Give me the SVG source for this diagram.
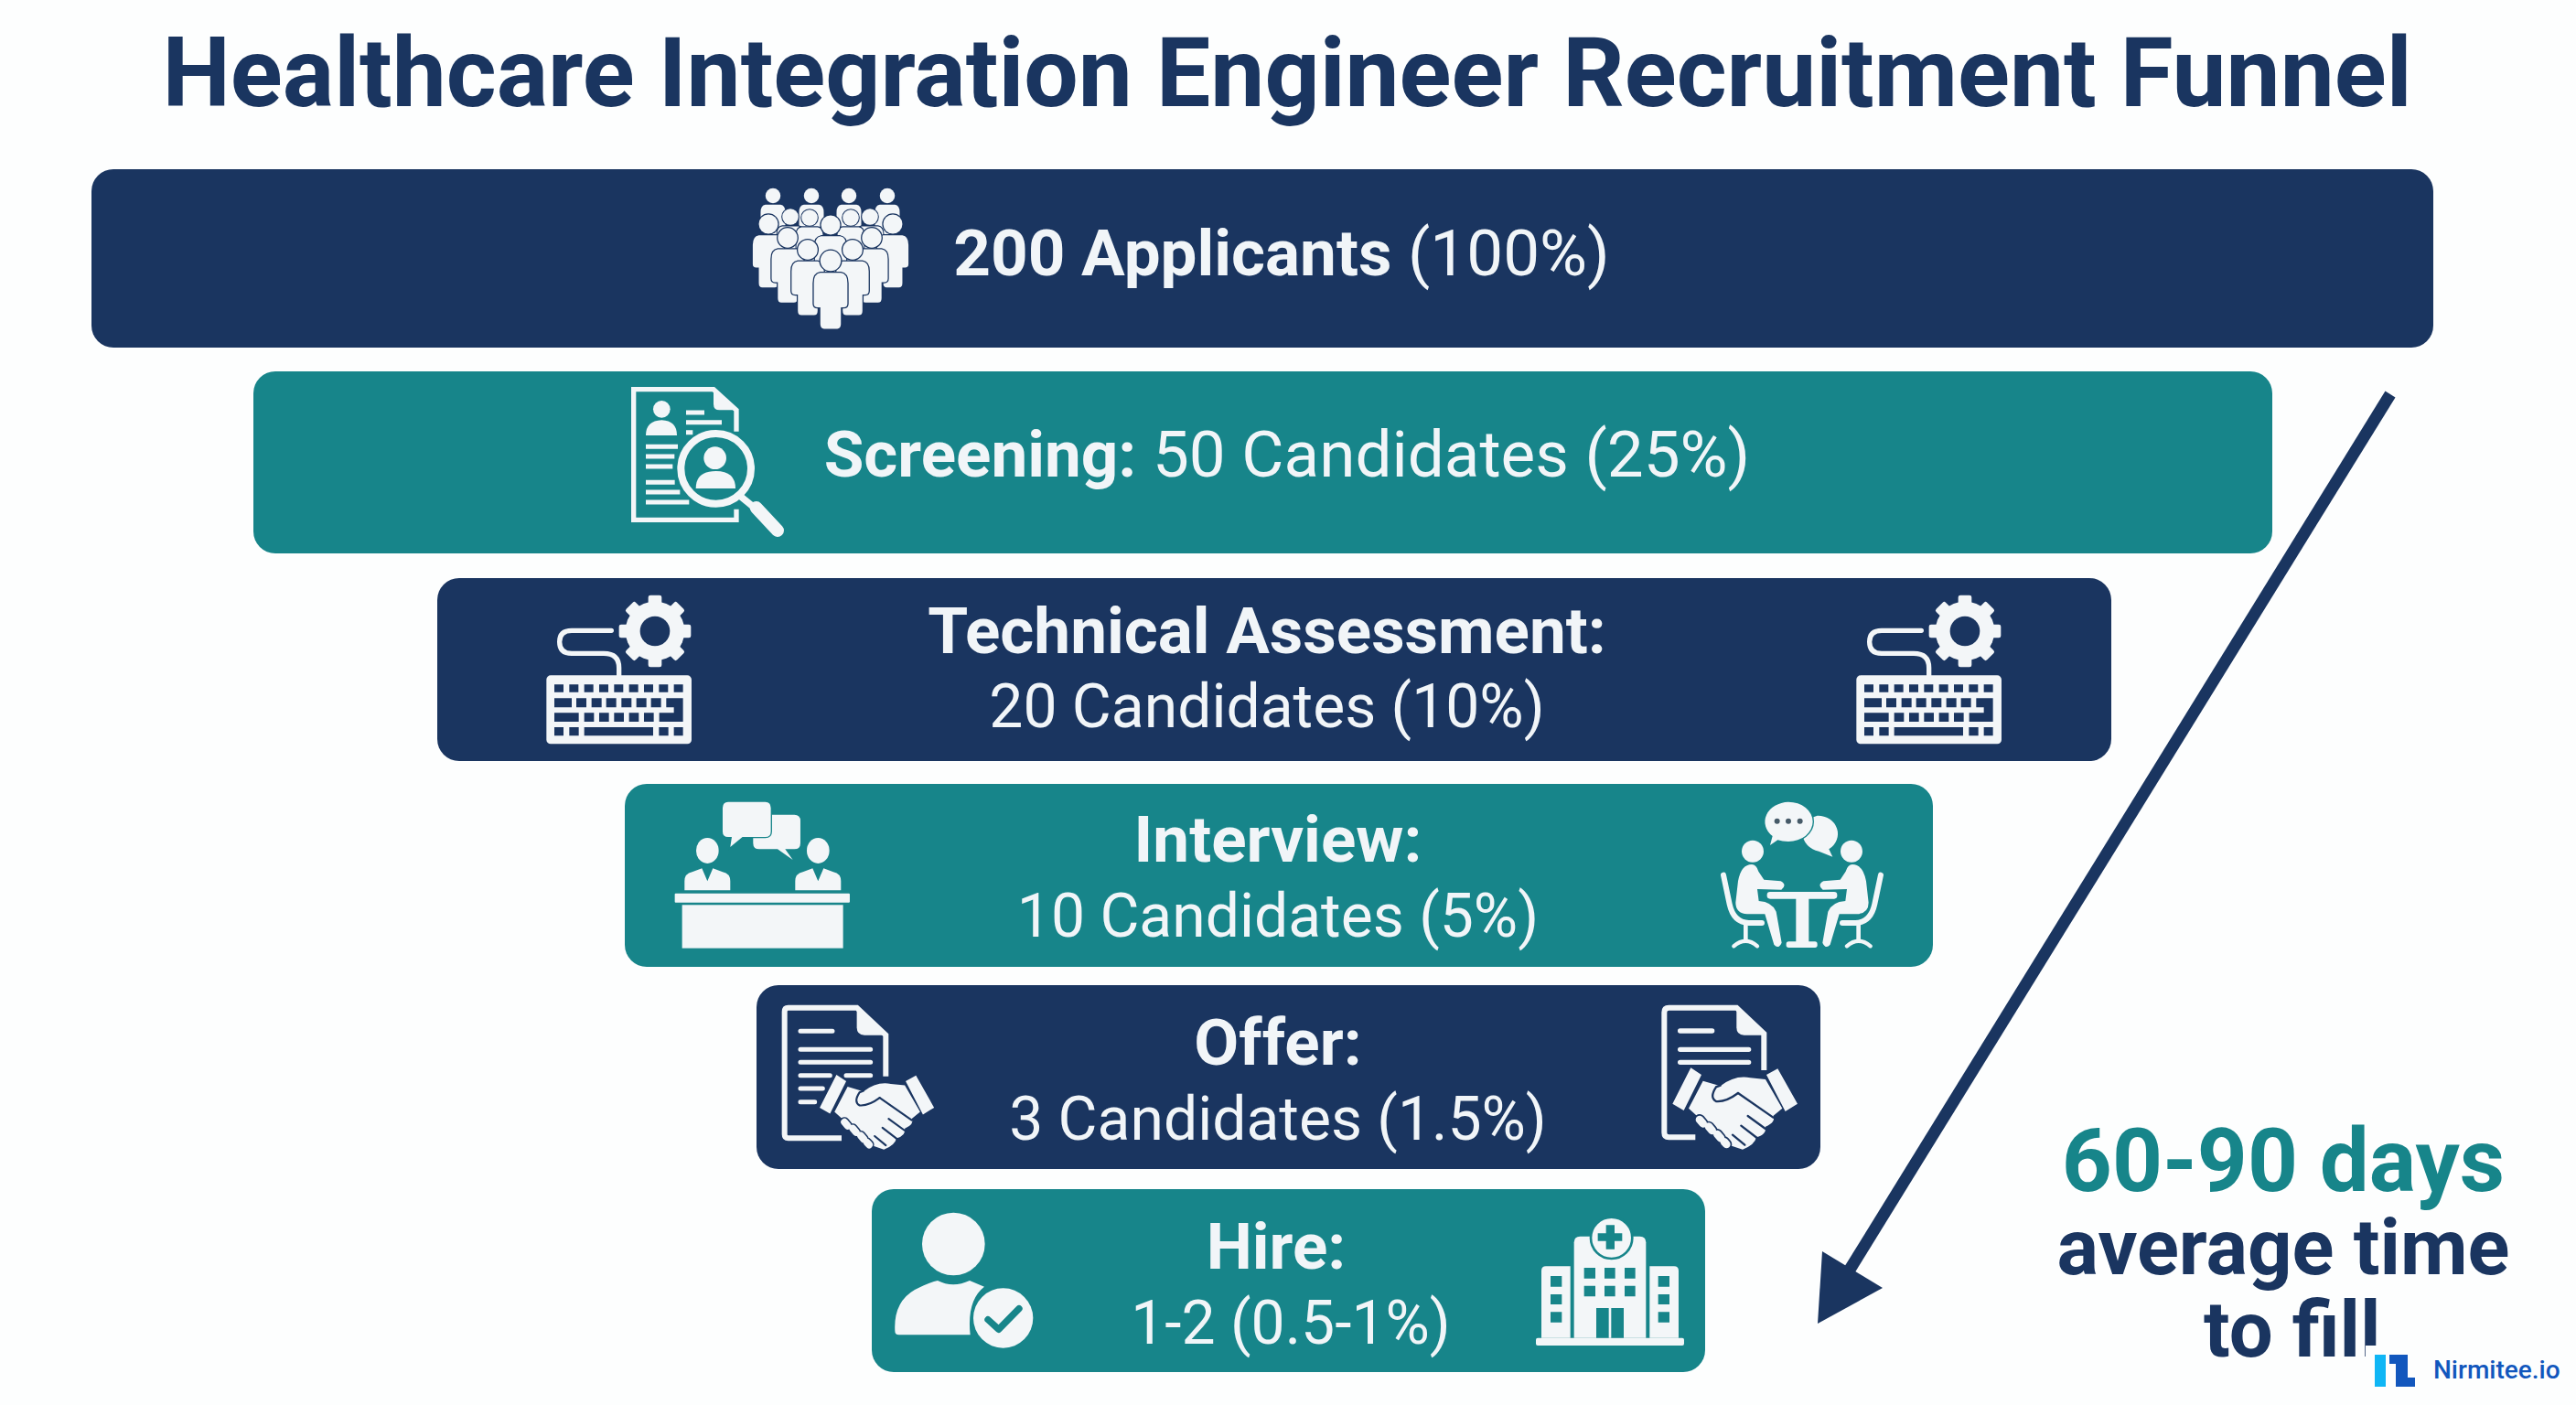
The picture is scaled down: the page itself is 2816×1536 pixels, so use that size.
<svg xmlns="http://www.w3.org/2000/svg" xmlns:xlink="http://www.w3.org/1999/xlink" width="2816" height="1536" viewBox="0 0 2816 1536">
<style>
.navy{fill:#1a3560}.teal{fill:#17858a}
text{font-family:Roboto,"Liberation Sans",sans-serif}
.t{fill:#f1f5f8;font-size:71px;text-anchor:middle}
.s{font-size:66px}
.b{font-weight:700}.r{font-weight:400}
.w{fill:#f3f6f8}
.ln{stroke:#f3f6f8;fill:none}
.p{fill:#f3f6f8;stroke:#1a3560;stroke-width:2.6;paint-order:stroke}
</style>
<defs>
<g id="person"><circle cx="0" cy="0" r="11"/><path d="M-11,13H11Q18,14 18,24V46Q18,50 14,50H11V68Q11,73 7,73H-7Q-11,73 -11,68V50H-14Q-18,50 -18,46V24Q-18,14 -11,13Z"/></g>
<g id="kb">
<path class="ln" stroke-width="16" stroke-linecap="round" d="M325,208H195Q155,208 155,245Q155,283 195,283H300Q350,283 350,330V360"/>
<g class="w"><rect x="446" y="92" width="44" height="236" rx="7"/><rect x="446" y="92" width="44" height="236" rx="7" transform="rotate(45 468 210)"/><rect x="446" y="92" width="44" height="236" rx="7" transform="rotate(90 468 210)"/><rect x="446" y="92" width="44" height="236" rx="7" transform="rotate(135 468 210)"/><circle cx="468" cy="210" r="97"/></g>
<circle cx="468" cy="210" r="49" class="navy"/>
<rect x="112" y="355" width="476" height="225" rx="14" class="w"/>
<path class="navy" d="M138,385h30v25h-30zM187,385h30v25h-30zM236,385h30v25h-30zM285,385h30v25h-30zM334,385h30v25h-30zM383,385h30v25h-30zM432,385h30v25h-30zM481,385h30v25h-30zM530,385h30v25h-30zM138,430h57v30h-57zM210,430h33v30h-33zM260,430h33v30h-33zM308,430h33v30h-33zM358,430h33v30h-33zM407,430h33v30h-33zM455,430h33v30h-33zM505,430h55v77h-78v-29h48v-18h-25zM138,478h80v29h-80zM236,478h32v29h-32zM285,478h32v29h-32zM334,478h32v29h-32zM383,478h32v29h-32zM432,478h32v29h-32zM138,525h30v28h-30zM187,525h31v28h-31zM236,525h226v28h-226zM481,525h31v28h-31zM530,525h30v28h-30z"/>
</g>
<g id="hs">
<path class="w" d="M175,262L210,285L152,402L115,380ZM460,265L525,380L485,405L423,285Z"/>
<path class="w" d="M215,305L272,322Q320,285 370,295L420,300L475,395L445,420Q455,440 420,455Q425,480 390,490Q385,515 345,530L300,515L168,395Z"/>
<g stroke="#1a3560" stroke-width="7" fill="none" stroke-linecap="round"><path d="M330,345Q290,375 258,372Q235,360 258,325L272,320"/><path d="M330,345L445,425"/><path d="M362,420L428,468"/><path d="M340,452L392,492"/><path d="M312,482L352,515"/></g>
<g stroke="#1a3560" stroke-width="36" stroke-linecap="round"><path d="M204,432L215,445M234,455L245,468M262,480L273,493M285,505L292,513"/></g>
<g stroke="#f3f6f8" stroke-width="26" stroke-linecap="round"><path d="M204,432L215,445M234,455L245,468M262,480L273,493M285,505L292,513"/></g>
</g>
</defs>
<rect width="2816" height="1536" fill="#fdfefe"/>
<text id="title" x="1407" y="116" text-anchor="middle" class="b" font-size="105.4" fill="#1a3560">Healthcare Integration Engineer Recruitment Funnel</text>

<g id="connectors">
<path d="M2613,431L2022,1388" stroke="#1a3560" stroke-width="13" fill="none"/>
<path d="M1987,1447L1992,1368L2058,1408Z" class="navy"/>
</g>

<g id="node-applicants">
<rect x="100" y="185" width="2560" height="195" rx="24" class="navy"/>
<g class="p">
<use href="#person" transform="translate(845,214) scale(.75)"/><use href="#person" transform="translate(887,214) scale(.75)"/><use href="#person" transform="translate(928,214) scale(.75)"/><use href="#person" transform="translate(970,214) scale(.75)"/>
<use href="#person" transform="translate(864,237) scale(.8)"/><use href="#person" transform="translate(951,237) scale(.8)"/>
<use href="#person" transform="translate(885,238) scale(.8)"/><use href="#person" transform="translate(930,238) scale(.8)"/>
<use href="#person" transform="translate(840,245) scale(.95)"/><use href="#person" transform="translate(976,245) scale(.95)"/>
<use href="#person" transform="translate(908,246) scale(.95)"/>
<use href="#person" transform="translate(861,260) scale(.97)"/><use href="#person" transform="translate(953,260) scale(.97)"/>
<use href="#person" transform="translate(883,273) scale(.98)"/><use href="#person" transform="translate(932,273) scale(.98)"/>
<use href="#person" transform="translate(908,285) scale(1.02)"/>
</g>
<text class="t" x="1401" y="301"><tspan class="b">200 Applicants</tspan><tspan class="r"> (100%)</tspan></text>
</g>

<g id="node-screening">
<rect x="277" y="406" width="2207" height="199" rx="24" class="teal"/>
<g transform="translate(670,410) scale(.3333)">
<path class="ln" stroke-width="16" d="M405,440V475H68V47H330L405,115V185"/>
<path class="w" d="M330,50L405,115H350Q330,115 330,95Z"/>
<circle cx="160" cy="112" r="28" class="w"/><path class="w" d="M108,198Q108,150 160,148Q210,150 210,198Z"/>
<path class="ln" stroke-width="15" d="M240,123H300M240,155H357M240,188H262M108,235H213M108,267H202M108,300H196M108,352H203M108,384H220M108,417H250"/>
<circle cx="338" cy="307" r="115" fill="#17858a" stroke="#17858a" stroke-width="36"/>
<circle cx="338" cy="307" r="115" class="ln" stroke-width="24"/>
<circle cx="335" cy="272" r="37" class="w"/><path class="w" d="M272,372Q272,315 338,315Q402,315 402,372Z"/>
<path class="ln" stroke-width="22" d="M415,395L470,440"/><path class="ln" stroke-width="42" stroke-linecap="round" d="M470,435L540,510"/>
</g>
<text class="t" x="1407" y="521"><tspan class="b">Screening:</tspan><tspan class="r"> 50 Candidates (25%)</tspan></text>
</g>

<g id="node-technical">
<rect x="478" y="632" width="1830" height="200" rx="24" class="navy"/>
<use href="#kb" transform="translate(560,620) scale(.3333)"/>
<use href="#kb" transform="translate(1992,620) scale(.3333)"/>
<text class="t b" x="1385" y="714">Technical Assessment:</text>
<text class="t r s" x="1385" y="795">20 Candidates (10%)</text>
</g>

<g id="node-interview">
<rect x="683" y="857" width="1430" height="200" rx="24" class="teal"/>
<g transform="translate(560,620) scale(.3333)">
<path class="w" d="M805,812H925Q945,812 945,832V905Q945,925 925,925H895L920,960L870,925H810Q790,925 790,905V832Q790,812 805,812Z"/>
<path class="w" stroke="#17858a" stroke-width="8" paint-order="stroke" d="M708,770H830Q848,770 848,790V867Q848,885 830,885H755L715,918L720,885H708Q690,885 690,867V790Q690,770 708,770Z"/>
<ellipse cx="640" cy="930" rx="37" ry="42" class="w"/><ellipse cx="1003" cy="930" rx="37" ry="42" class="w"/>
<path class="w" d="M565,1060V1030Q565,1005 590,1000L622,988L640,1030L658,988L690,1000Q715,1005 715,1030V1060Z"/>
<path class="w" d="M928,1060V1030Q928,1005 953,1000L985,988L1003,1030L1021,988L1053,1000Q1078,1005 1078,1030V1060Z"/>
<rect x="533" y="1070" width="574" height="30" rx="3" class="w"/><rect x="557" y="1108" width="528" height="142" class="w"/>
</g>
<g transform="translate(1840,860) scale(.3333)">
<path class="w" d="M440,95A65,60 0 0 1 478,205L490,230L445,212A65,60 0 0 1 440,95Z"/>
<path class="w" stroke="#17858a" stroke-width="8" paint-order="stroke" d="M345,50A80,65 0 0 1 345,180Q325,180 310,175L285,192L293,162A80,65 0 0 1 345,50Z"/>
<g fill="#465a68"><circle cx="308" cy="113" r="9"/><circle cx="345" cy="113" r="9"/><circle cx="383" cy="113" r="9"/></g>
<g id="seat"><circle cx="228" cy="212" r="36" class="w"/>
<path class="w" d="M225,255Q190,255 180,310L172,380Q172,415 210,418H268L298,518Q312,535 323,512L305,410Q292,378 248,375L243,336L322,338Q342,322 320,310L265,305L247,278Q240,255 225,255Z"/>
<path class="ln" stroke-width="18" stroke-linecap="round" d="M132,290L152,385Q165,445 215,447H258"/>
<path class="ln" stroke-width="14" d="M205,447V505"/><path class="ln" stroke-width="13" stroke-linecap="round" d="M166,523Q205,490 243,523"/></g>
<use href="#seat" transform="matrix(-1 0 0 1 780 0)"/>
<rect x="275" y="345" width="230" height="23" rx="10" class="w"/><rect x="370" y="365" width="42" height="148" class="w"/><rect x="338" y="508" width="102" height="20" rx="8" class="w"/>
</g>
<text class="t b" x="1397" y="942">Interview:</text>
<text class="t r s" x="1397" y="1024">10 Candidates (5%)</text>
</g>

<g id="node-offer">
<rect x="827" y="1077" width="1163" height="201" rx="24" class="navy"/>
<g transform="translate(820,1060) scale(.3333)">
<path class="ln" stroke-width="18" d="M300,553H125Q113,553 113,540V138Q113,125 125,125H350L445,215V350"/>
<path class="w" d="M350,130L445,215H375Q350,215 350,190Z"/>
<path class="ln" stroke-width="15" stroke-linecap="round" d="M165,202H270M165,262H395M165,304H395M165,347H262M315,347H395M165,390H238M165,434H212"/>
</g>
<use href="#hs" transform="translate(861,1095) scale(.305)"/>
<g transform="translate(1790,1080) scale(.3333)">
<path class="ln" stroke-width="18" d="M190,490H103Q88,490 88,475V80Q88,65 103,65H325L415,150V270"/>
<path class="w" d="M325,70L415,155H350Q325,155 325,130Z"/>
<path class="ln" stroke-width="16" stroke-linecap="round" d="M140,141H245M140,202H365M140,244H365"/>
</g>
<use href="#hs" transform="translate(1790,1080) scale(.3333)"/>
<text class="t b" x="1397" y="1164">Offer:</text>
<text class="t r s" x="1397" y="1246">3 Candidates (1.5%)</text>
</g>

<g id="node-hire">
<rect x="953" y="1300" width="911" height="200" rx="24" class="teal"/>
<g transform="translate(940,1300) scale(.3333)">
<circle cx="307" cy="180" r="103" class="w"/>
<path class="w" d="M115,465Q110,370 180,330Q230,305 255,300Q305,325 360,300L408,320Q350,365 362,478H128Q115,478 115,465Z"/>
<circle cx="470" cy="423" r="98" class="w"/>
<path d="M420,428L455,460L522,392" stroke="#17858a" stroke-width="22" fill="none" stroke-linejoin="round" stroke-linecap="round"/>
</g>
<g transform="translate(1660,1300) scale(.3333)">
<path class="w" d="M182,488V175Q182,155 202,155H398Q418,155 418,175V488Z"/>
<path class="w" d="M75,488V268Q75,253 90,253H170V488ZM430,488V253H510Q525,253 525,268V488Z"/>
<rect x="57" y="488" width="486" height="25" rx="6" class="w"/>
<circle cx="305" cy="160" r="68" class="w" stroke="#17858a" stroke-width="8"/>
<path class="teal" d="M287,118H315V145H340V170H315V197H287V170H260V145H287Z"/>
<path class="teal" d="M215,258h37v35h-37zM282,258h35v35h-35zM348,258h35v35h-35zM215,317h37v35h-37zM282,317h35v35h-35zM348,317h35v35h-35zM105,285h37v35h-37zM105,345h37v33h-37zM105,403h37v34h-37zM458,285h37v35h-37zM458,345h37v33h-37zM458,403h37v34h-37zM255,390h41v98h-41zM304,390h41v98h-41z"/>
</g>
<text class="t b" x="1395" y="1387">Hire:</text>
<text class="t r s" x="1411" y="1469">1-2 (0.5-1%)</text>
</g>

<g id="note-time">
<text x="2496" y="1302" text-anchor="middle" class="b" font-size="96" fill="#17858a">60-90 days</text>
<text x="2496" y="1393" text-anchor="middle" class="b" font-size="85" fill="#1a3560">average time</text>
<text x="2409" y="1483" class="b" font-size="85" fill="#1a3560">to fill</text>
</g>

<g id="logo">
<rect x="2586" y="1471" width="230" height="65" fill="#fdfefe"/>
<rect x="2596" y="1481" width="12" height="35" fill="#0fb6f5"/>
<path d="M2612,1481H2632V1506H2640V1516H2619V1491H2612Z" fill="#1257bd"/>
<text x="2660" y="1507" font-size="28" font-weight="500" fill="#1257bd">Nirmitee.io</text>
</g>
</svg>
